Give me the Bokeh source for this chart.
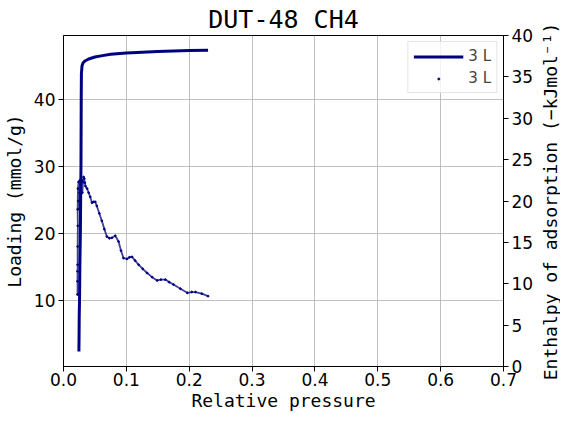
from bokeh.plotting import figure
from bokeh.layouts import row
from bokeh.models import Range1d, LinearAxis, FixedTicker, Legend, LegendItem, NumeralTickFormatter
from bokeh.embed import file_html
from bokeh.resources import INLINE

# isotherm (left axis)
pressure_iso = [0.0245, 0.0248, 0.025, 0.0255, 0.026, 0.0268, 0.0273, 0.0278, 0.028, 0.0282,
                0.0285, 0.0295, 0.031, 0.034, 0.04, 0.05, 0.062, 0.075, 0.1, 0.125, 0.15,
                0.175, 0.2, 0.23]
loading = [2.4, 5.0, 7.5, 10.0, 15.0, 20.0, 25.0, 30.0, 35.0, 40.0,
           43.8, 45.0, 45.4, 45.7, 46.0, 46.3, 46.5, 46.7, 46.9, 47.0, 47.1,
           47.2, 47.25, 47.3]

# enthalpy of adsorption (right axis)
pressure_h = [0.0223, 0.0223, 0.0223, 0.0225, 0.0225, 0.0228, 0.0225, 0.023, 0.024, 0.0235,
              0.025, 0.0255, 0.026, 0.0265, 0.027, 0.028, 0.029, 0.030, 0.031, 0.032,
              0.033, 0.034, 0.035, 0.0375, 0.040, 0.0425, 0.0453, 0.048, 0.0505, 0.053,
              0.057, 0.061, 0.065, 0.069, 0.073, 0.077, 0.0823, 0.0876, 0.0915, 0.0955,
              0.101, 0.105, 0.109, 0.114, 0.1195, 0.126, 0.133, 0.141, 0.149, 0.155,
              0.162, 0.168, 0.175, 0.186, 0.197, 0.204, 0.21, 0.22, 0.23]
enthalpy = [8.7, 10.3, 11.5, 12.3, 14.5, 17.0, 19.0, 21.5, 22.3, 20.0,
            19.0, 21.0, 22.5, 19.5, 18.7, 21.0, 22.5, 21.0, 22.3, 22.9,
            22.7, 22.2, 21.8, 21.5, 21.0, 20.5, 19.8, 19.9, 19.9, 19.4,
            18.5, 17.6, 16.6, 15.7, 15.5, 15.55, 15.8, 15.1, 14.0, 13.1,
            13.0, 13.2, 13.25, 12.8, 12.3, 11.8, 11.3, 10.8, 10.4, 10.5,
            10.5, 10.2, 9.9, 9.4, 8.9, 9.0, 9.0, 8.8, 8.5]

x_ticks = [0.0, 0.1, 0.2, 0.3, 0.4, 0.5, 0.6, 0.7]
left_ticks = [10, 20, 30, 40]
right_ticks = [0, 5, 10, 15, 20, 25, 30, 35, 40]

mono = "DejaVu Sans Mono"
navy = "#000080"

p = figure(frame_width=440, frame_height=331, output_backend="svg", toolbar_location=None,
           x_range=Range1d(0, 0.7), y_range=Range1d(0.15, 49.5),
           min_border_left=55, min_border_right=0, min_border_top=28, min_border_bottom=0)
p.extra_y_ranges = {"h": Range1d(0, 40)}

p.title.text = "DUT-48 CH4"
p.title.text_font = mono
p.title.text_font_size = "25px"
p.title.text_font_style = "normal"
p.title.text_color = "black"
p.title.align = "center"
p.title.standoff = 4

p.outline_line_color = "black"
p.outline_line_width = 1
p.background_fill_color = "white"
p.border_fill_color = "white"

p.xaxis.ticker = FixedTicker(ticks=x_ticks)
p.xaxis.formatter = NumeralTickFormatter(format="0.0")
p.yaxis.ticker = FixedTicker(ticks=left_ticks)
p.xaxis.axis_label = "Relative pressure"
p.yaxis.axis_label = "Loading (mmol/g)"

right = LinearAxis(y_range_name="h", ticker=FixedTicker(ticks=right_ticks))
p.add_layout(right, "right")

for ax in p.xaxis + p.yaxis:
    ax.axis_label_text_font = mono
    ax.axis_label_text_font_size = "18px"
    ax.axis_label_text_font_style = "normal"
    ax.axis_label_text_color = "black"
    ax.major_label_text_font = "DejaVu Sans"
    ax.major_label_text_font_size = "17px"
    ax.major_label_text_color = "black"
    ax.axis_line_color = "black"
    ax.major_tick_line_color = "black"
    ax.major_tick_out = 5
    ax.major_tick_in = 0
    ax.minor_tick_line_color = None
    ax.major_label_standoff = 3
    ax.axis_label_standoff = 6
p.xaxis.major_label_standoff = 1
p.xaxis.axis_label_standoff = 1
right.axis_label_standoff = 0

p.xgrid.grid_line_color = "#b0b0b0"
p.ygrid.grid_line_color = "#b0b0b0"
p.xgrid.grid_line_width = 0.8
p.ygrid.grid_line_width = 0.8

iso = p.line(pressure_iso, loading, line_color=navy, line_width=3)
p.line(pressure_h, enthalpy, y_range_name="h", line_color=navy, line_width=1.8, line_alpha=0.75)
dots = p.scatter(pressure_h, enthalpy, y_range_name="h", size=1.8, color=navy)

legend = Legend(items=[LegendItem(label="3 L", renderers=[iso]),
                       LegendItem(label="3 L", renderers=[dots])],
                location="top_right", label_text_font="DejaVu Sans", label_text_font_size="15px",
                border_line_color="#cccccc", border_line_width=1, background_fill_alpha=0.8,
                glyph_width=50, glyph_height=5, label_height=18, spacing=4, padding=5, margin=6)
p.add_layout(legend)

# narrow strip whose left axis title serves as the right axis title (reads bottom to top)
side = figure(width=24, height=414, output_backend="svg", toolbar_location=None,
              x_range=Range1d(0, 1), y_range=Range1d(0, 1),
              min_border_left=0, min_border_right=0, min_border_top=0, min_border_bottom=0)
side.xaxis.visible = False
side.grid.visible = False
side.outline_line_color = None
side.yaxis.ticker = FixedTicker(ticks=[])
side.yaxis.axis_line_color = None
side.yaxis.major_tick_line_color = None
side.yaxis.minor_tick_line_color = None
side.yaxis.major_label_text_font_size = "0px"
side.yaxis.major_label_standoff = 0
side.yaxis.major_tick_out = 0
side.yaxis.axis_label = "Enthalpy of adsorption (\u2212kJmol\u207b\u00b9)"
side.yaxis.axis_label_text_font = mono
side.yaxis.axis_label_text_font_size = "18px"
side.yaxis.axis_label_text_font_style = "normal"
side.yaxis.axis_label_text_color = "black"
side.yaxis.axis_label_standoff = 0

page = row(p, side, spacing=0)
open("out.html", "w").write(file_html(page, INLINE))
